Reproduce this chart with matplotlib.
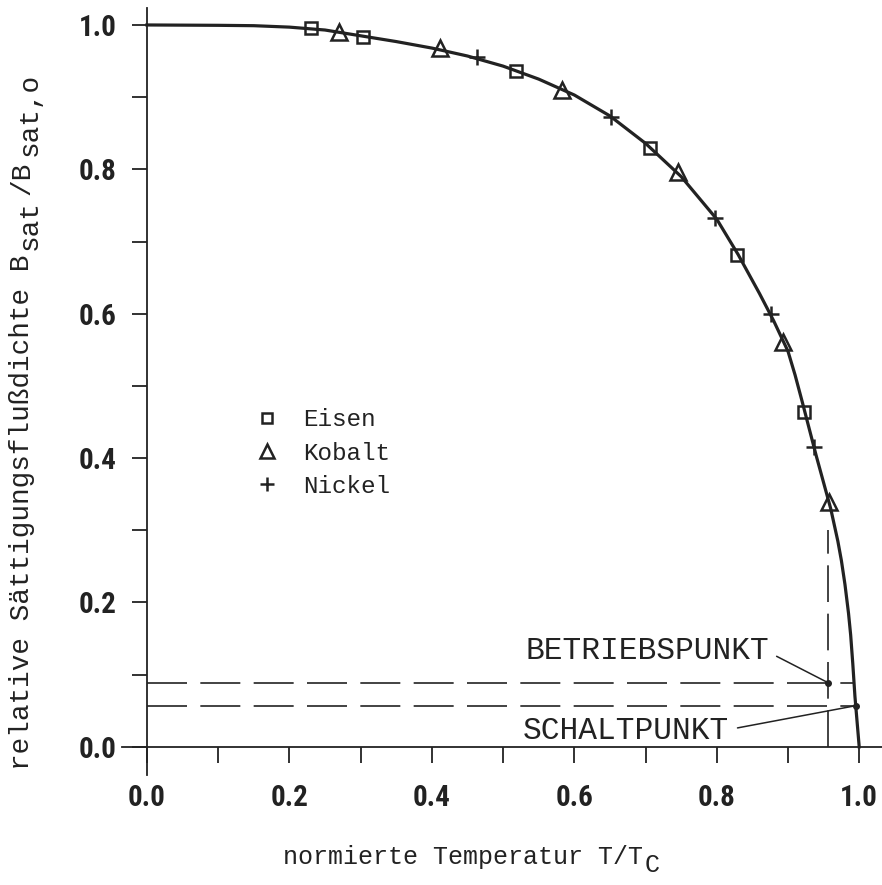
import numpy as np
import matplotlib
matplotlib.use('Agg')
import matplotlib.pyplot as plt
from matplotlib import ticker, font_manager
from matplotlib.transforms import IdentityTransform

# --- Data ---
# smooth curve B_sat/B_sat,0 over T/T_C
curve_t = [0.0, 0.1, 0.15, 0.2, 0.25, 0.3, 0.35, 0.4, 0.45, 0.5, 0.55, 0.6,
           0.65, 0.7, 0.75, 0.8, 0.83, 0.86, 0.88, 0.9, 0.91, 0.92, 0.93,
           0.94, 0.95, 0.96, 0.97, 0.975, 0.98, 0.985, 0.988, 0.991, 0.994,
           0.997, 1.0]
curve_b = [1.0, 0.9995, 0.999, 0.997, 0.993, 0.985, 0.977, 0.968, 0.957, 0.943,
           0.925, 0.903, 0.874, 0.836, 0.79, 0.731, 0.682, 0.628, 0.59, 0.548,
           0.515, 0.478, 0.44, 0.402, 0.366, 0.33, 0.285, 0.258, 0.225, 0.185,
           0.155, 0.115, 0.07, 0.035, 0.0]

eisen_t = [0.230, 0.303, 0.518, 0.706, 0.829, 0.923]
eisen_b = [0.996, 0.983, 0.936, 0.830, 0.681, 0.464]
kobalt_t = [0.270, 0.412, 0.583, 0.746, 0.893, 0.958]
kobalt_b = [0.990, 0.968, 0.910, 0.796, 0.561, 0.339]
nickel_t = [0.463, 0.652, 0.798, 0.876, 0.937]
nickel_b = [0.956, 0.873, 0.733, 0.600, 0.416]

betrieb_t, betrieb_b = 0.956, 0.089
betrieb_curve_t = 0.9927
betrieb_vline_top = 0.30
schalt_t, schalt_b = 0.995, 0.057

names = {f.name for f in font_manager.fontManager.ttflist}
narrow = [n for n in ['Liberation Sans Narrow', 'Roboto Condensed', 'Noto Sans Condensed',
                      'Open Sans Condensed', 'DejaVu Sans Condensed'] if n in names]
if narrow:
    TICK_FONT, TICK_SIZE = narrow[0], 21
else:
    TICK_FONT, TICK_SIZE = 'Liberation Sans', 20
MONO = 'Liberation Mono' if 'Liberation Mono' in names else 'DejaVu Sans Mono'

INK = '#222222'

fig = plt.figure(figsize=(8.82, 8.85), dpi=100)
ax = fig.add_axes([122 / 882, 110 / 885, 760 / 882, 767 / 885])
ax.set_xlim(-0.035, 1.032)
ax.set_ylim(-0.039, 1.0235)

for s in ['top', 'right']:
    ax.spines[s].set_visible(False)
ax.spines['left'].set_position(('data', 0))
ax.spines['bottom'].set_position(('data', 0))
for s in ['left', 'bottom']:
    ax.spines[s].set_linewidth(1.3)
    ax.spines[s].set_color(INK)

ax.xaxis.set_major_locator(ticker.MultipleLocator(0.2))
ax.xaxis.set_minor_locator(ticker.MultipleLocator(0.1))
ax.yaxis.set_major_locator(ticker.MultipleLocator(0.2))
ax.yaxis.set_minor_locator(ticker.MultipleLocator(0.1))
ax.xaxis.set_major_formatter(ticker.FormatStrFormatter('%.1f'))
ax.yaxis.set_major_formatter(ticker.FormatStrFormatter('%.1f'))
ax.tick_params(axis='x', which='both', direction='out', length=11.5, width=1.3,
               color=INK, pad=15)
ax.tick_params(axis='y', which='both', direction='out', length=10.8, width=1.3,
               color=INK, pad=11)
for lab in ax.get_xticklabels() + ax.get_yticklabels():
    lab.set_fontfamily(TICK_FONT)
    lab.set_fontweight('bold')
    lab.set_fontsize(TICK_SIZE)
    lab.set_color(INK)

# dashed guide lines for the operating / switching points
dash = (0, (24, 8))
ax.plot([0, betrieb_curve_t], [betrieb_b, betrieb_b], color=INK, lw=1.2, linestyle=dash)
ax.plot([0, schalt_t], [schalt_b, schalt_b], color=INK, lw=1.2, linestyle=dash)
ax.plot([betrieb_t, betrieb_t], [0, betrieb_vline_top], color=INK, lw=1.2,
        linestyle=(0, (22, 7)))

# curve and measured points
ax.plot(curve_t, curve_b, color=INK, lw=2.3, solid_joinstyle='round', zorder=3)
mk = dict(linestyle='none', mfc='none', mec=INK, mew=1.8, zorder=4)
ax.plot(eisen_t, eisen_b, marker='s', ms=9, label='Eisen', **mk)
ax.plot(kobalt_t, kobalt_b, marker='^', ms=12, label='Kobalt', **mk)
ax.plot(nickel_t, nickel_b, marker='+', ms=12, label='Nickel', **mk)

ax.plot([betrieb_t, schalt_t], [betrieb_b, schalt_b], linestyle='none', marker='o',
        ms=4, color=INK, zorder=5)

ann = dict(fontfamily=MONO, fontsize=22.5, color=INK, ha='left', va='center')
ax.annotate('BETRIEBSPUNKT', xy=(betrieb_t, betrieb_b), xytext=(0.531, 0.133),
            arrowprops=dict(arrowstyle='-', lw=1.1, color=INK, relpos=(1.0, 0.45),
                            shrinkA=4, shrinkB=0), **ann)
ax.annotate('SCHALTPUNKT', xy=(schalt_t, schalt_b), xytext=(0.528, 0.022),
            arrowprops=dict(arrowstyle='-', lw=1.1, color=INK, relpos=(1.0, 0.55),
                            shrinkA=4, shrinkB=0), **ann)

leg = ax.legend(loc='center left', bbox_to_anchor=(0.134, 0.407),
                bbox_transform=ax.transData, frameon=False, borderpad=0,
                handlelength=1.0, handletextpad=1.0, labelspacing=0.42,
                markerscale=0.85, numpoints=1,
                prop={'family': MONO, 'size': 17.5})
for t in leg.get_texts():
    t.set_color(INK)

# axis labels: typewriter style, subscripts full size but lowered
renderer = fig.canvas.get_renderer()
lab = dict(fontfamily=MONO, color=INK, transform=IdentityTransform())

y = 885 - 770
for text, shift in [('relative Sättigungsflußdichte B', 0), ('sat', 8), ('/B', 0),
                    ('sat,o', 8)]:
    t = fig.text(22 + shift, y, text, rotation=90, ha='center', va='bottom',
                 fontsize=20, **lab)
    y = t.get_window_extent(renderer).y1 + 5

x = 283
for text, shift in [('normierte Temperatur T/T', 0), ('C', -8)]:
    t = fig.text(x, 885 - 857 + shift, text, ha='left', va='center', fontsize=18, **lab)
    x = t.get_window_extent(renderer).x1 + 2

fig.savefig('out.png', dpi=100)
